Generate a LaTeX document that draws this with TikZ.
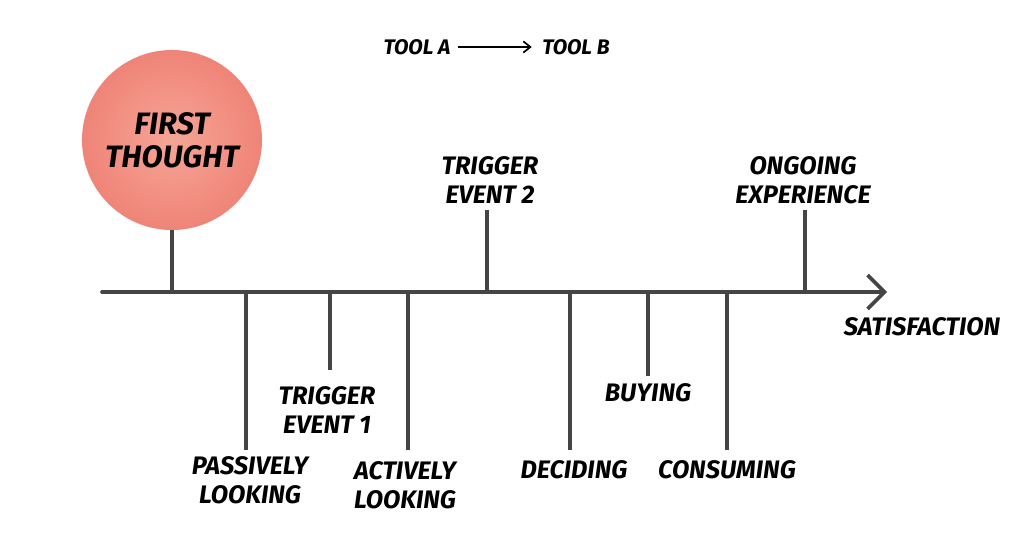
\documentclass[tikz,border=0pt]{standalone}
\usepackage{fontspec}
\setmainfont{Fira Sans}
\usetikzlibrary{arrows.meta, positioning}
\definecolor{inkgray}{HTML}{454545}
\definecolor{peachlight}{HTML}{F6A596}
\definecolor{peachdark}{HTML}{EF8478}

\begin{document}
\begin{tikzpicture}[
  x=0.025cm, y=-0.025cm,
  every node/.style={font=\bfseries\itshape\fontsize{18}{21}\selectfont, align=center, text=black},
  blob/.style={circle, minimum size=4.5cm, inner color=peachlight, outer color=peachdark,
    font=\bfseries\itshape\fontsize{22}{23.5}\selectfont},
  toollabel/.style={font=\bfseries\itshape\fontsize{15}{18}\selectfont},
  axisline/.style={draw=inkgray, line width=2.6pt, line cap=round, -{Straight Barb[length=12pt, width=24pt]}},
  tick/.style={draw=inkgray, line width=2.2pt},
  toolarr/.style={draw=black, line width=1.2pt, shorten <=2pt, shorten >=4pt, -{Straight Barb[length=5pt, width=8pt]}}
]
\useasboundingbox (0,0) rectangle (1024,544);

% Header: tool switch
\node[toollabel] (toolA) at (417,47) {TOOL A};
\node[toollabel] (toolB) at (576,47) {TOOL B};
\draw[toolarr] (toolA) -- (toolB);

% Axis
\coordinate (axstart) at (102,292);
\coordinate (axend) at (887,292);

% Above the axis
\node[blob] (thought) at (172,140) {FIRST\\THOUGHT};
\node (trigB) at (490,180) {TRIGGER\\EVENT 2};
\node (ongoing) at (803,180) {ONGOING\\EXPERIENCE};
\coordinate (trigB-end) at (487,210);
\coordinate (ongoing-end) at (805,210);
\draw[tick] (thought.south) -- (thought.south |- axstart);
\draw[tick] (trigB-end) -- (trigB-end |- axstart);
\draw[tick] (ongoing-end) -- (ongoing-end |- axstart);

% Below the axis
\node (passive) at (250,480) {PASSIVELY\\LOOKING};
\node (trigA) at (327,410) {TRIGGER\\EVENT 1};
\node (active) at (405,485) {ACTIVELY\\LOOKING};
\node (decide) at (574,470) {DECIDING};
\node (buy) at (648,393) {BUYING};
\node (consume) at (727,470) {CONSUMING};
\node (satisf) at (922,327) {SATISFACTION};
\coordinate (passive-end) at (246,450);
\coordinate (trigA-end) at (330,370);
\coordinate (active-end) at (408,450);
\coordinate (decide-end) at (570,450);
\coordinate (buy-end) at (648,376);
\coordinate (consume-end) at (727,450);
\draw[tick] (passive-end) -- (passive-end |- axstart);
\draw[tick] (trigA-end) -- (trigA-end |- axstart);
\draw[tick] (active-end) -- (active-end |- axstart);
\draw[tick] (decide-end) -- (decide-end |- axstart);
\draw[tick] (buy-end) -- (buy-end |- axstart);
\draw[tick] (consume-end) -- (consume-end |- axstart);

\draw[axisline] (axstart) -- (axend);

\end{tikzpicture}
\end{document}
